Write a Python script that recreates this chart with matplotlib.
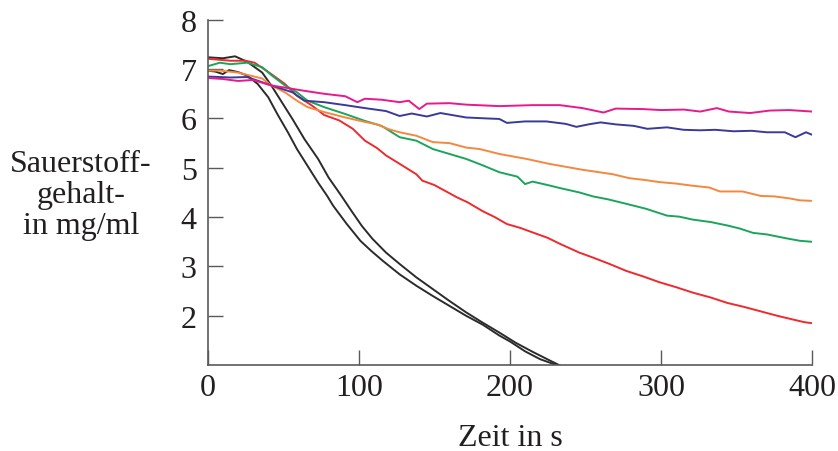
import numpy as np
import matplotlib
matplotlib.use("Agg")
import matplotlib.pyplot as plt

plt.rcParams['font.family'] = ['Liberation Serif', 'DejaVu Serif']

# Sauerstoffgehalt (mg/ml) ueber der Zeit (s)
t_pink = [0, 10, 20, 30, 42, 56, 64, 77, 91, 99, 104, 115, 127, 133, 140, 145, 160, 171,
          193, 215, 233, 248, 262, 270, 288, 300, 315, 326, 337, 345, 359, 372, 385, 400]
v_pink = [6.82, 6.80, 6.76, 6.78, 6.67, 6.60, 6.56, 6.50, 6.45, 6.33, 6.40, 6.38, 6.33, 6.36,
          6.19, 6.30, 6.31, 6.28, 6.25, 6.27, 6.27, 6.21, 6.12, 6.20, 6.19, 6.17, 6.18, 6.14,
          6.21, 6.14, 6.11, 6.16, 6.17, 6.14]

t_blue = [0, 15, 26, 42, 56, 64, 77, 91, 104, 118, 127, 135, 145, 154, 171, 185, 193, 198,
          210, 224, 237, 244, 252, 260, 270, 282, 291, 304, 315, 326, 336, 348, 360, 370,
          382, 389, 396, 400]
v_blue = [6.85, 6.83, 6.84, 6.67, 6.53, 6.36, 6.33, 6.27, 6.21, 6.15, 6.05, 6.10, 6.04,
          6.11, 6.02, 6.00, 5.99, 5.91, 5.94, 5.94, 5.89, 5.83, 5.88, 5.92, 5.88, 5.85, 5.79,
          5.82, 5.77, 5.76, 5.77, 5.74, 5.75, 5.72, 5.72, 5.62, 5.72, 5.67]

t_orange = [0, 8, 20, 28, 36, 42, 51, 59, 66, 77, 91, 104, 112, 120, 127, 138, 149, 160,
            171, 180, 193, 211, 226, 248, 268, 279, 290, 299, 310, 320, 332, 339, 354, 366,
            375, 385, 392, 400]
v_orange = [6.97, 6.97, 6.93, 6.87, 6.81, 6.67, 6.53, 6.36, 6.23, 6.13, 6.02, 5.93, 5.88,
            5.78, 5.72, 5.65, 5.52, 5.50, 5.41, 5.38, 5.28, 5.18, 5.08, 4.96, 4.87, 4.79,
            4.75, 4.71, 4.68, 4.64, 4.60, 4.52, 4.52, 4.43, 4.42, 4.38, 4.34, 4.33]

t_green = [0, 8, 15, 26, 36, 42, 51, 59, 66, 77, 91, 104, 115, 127, 138, 149, 160, 171,
           182, 193, 205, 210, 215, 225, 233, 246, 255, 265, 277, 290, 304, 312, 321, 333,
           344, 352, 361, 370, 383, 392, 400]
v_green = [7.06, 7.13, 7.10, 7.13, 7.04, 6.88, 6.67, 6.53, 6.36, 6.23, 6.09, 5.95, 5.85,
           5.62, 5.55, 5.38, 5.28, 5.18, 5.05, 4.91, 4.82, 4.67, 4.72, 4.65, 4.59, 4.50,
           4.42, 4.36, 4.27, 4.17, 4.03, 4.01, 3.95, 3.90, 3.83, 3.77, 3.68, 3.65, 3.57,
           3.52, 3.50]

t_red = [0, 15, 25, 31, 42, 51, 59, 69, 77, 87, 96, 104, 112, 118, 127, 138, 142, 150,
         165, 172, 182, 190, 198, 207, 215, 225, 233, 246, 255, 266, 277, 288, 299, 310,
         321, 333, 344, 355, 366, 377, 388, 395, 400]
v_red = [7.21, 7.17, 7.17, 7.13, 6.90, 6.70, 6.46, 6.26, 6.07, 5.96, 5.79, 5.55, 5.40,
         5.25, 5.08, 4.87, 4.74, 4.65, 4.40, 4.30, 4.12, 4.00, 3.86, 3.78, 3.69, 3.58,
         3.46, 3.28, 3.18, 3.05, 2.91, 2.80, 2.68, 2.58, 2.47, 2.37, 2.26, 2.18, 2.09,
         2.00, 1.92, 1.87, 1.85]

t_black1 = [0, 10, 18, 26, 36, 42, 49, 56, 64, 73, 80, 88, 95, 102, 109, 118, 127, 138,
            149, 160, 171, 182, 193, 204, 215, 226, 234]
v_black1 = [7.24, 7.22, 7.26, 7.15, 6.93, 6.67, 6.33, 5.99, 5.58, 5.18, 4.80, 4.45, 4.13,
            3.82, 3.56, 3.28, 3.05, 2.78, 2.54, 2.30, 2.07, 1.86, 1.66, 1.45, 1.27, 1.10,
            0.98]

t_black2 = [0, 5, 10, 14, 20, 26, 33, 40, 46, 53, 59, 66, 73, 79, 83, 92, 101, 108, 116,
            127, 138, 149, 160, 171, 182, 193, 200, 210, 220, 231]
v_black2 = [6.97, 6.95, 6.90, 6.98, 6.94, 6.87, 6.70, 6.43, 6.09, 5.72, 5.38, 5.04, 4.70,
            4.43, 4.23, 3.86, 3.52, 3.32, 3.11, 2.84, 2.61, 2.40, 2.20, 2.00, 1.82, 1.60,
            1.48, 1.28, 1.12, 1.00]

x_ticks = [0, 100, 200, 300, 400]
y_ticks = [2, 3, 4, 5, 6, 7, 8]

fig = plt.figure(figsize=(8.38, 4.52), dpi=100)
ax = fig.add_axes([0.248, 0.19, 0.721, 0.764])

axis_col = '#5a5a5a'
ax.plot(t_black1, v_black1, color='#2b2b2b', lw=1.4)
ax.plot(t_black2, v_black2, color='#2b2b2b', lw=1.4)
ax.plot(t_red, v_red, color='#ee2a2e', lw=1.4)
ax.plot(t_green, v_green, color='#1aa55a', lw=1.4)
ax.plot(t_orange, v_orange, color='#f5873f', lw=1.4)
ax.plot(t_blue, v_blue, color='#3a3a9a', lw=1.4)
ax.plot(t_pink, v_pink, color='#e8198b', lw=1.4)

ax.set_xlim(0, 400)
ax.set_ylim(1, 8)
ax.set_xticks(x_ticks)
ax.set_yticks(y_ticks)
for s in ['top', 'right']:
    ax.spines[s].set_visible(False)
for s in ['left', 'bottom']:
    ax.spines[s].set_color(axis_col)
    ax.spines[s].set_linewidth(1.2)
ax.tick_params(direction='in', length=11, width=1, colors=axis_col,
               labelcolor='#231f20', labelsize=23)
ax.tick_params(axis='x', pad=6)
ax.tick_params(axis='y', pad=8)

fig.text(0.0967, 0.568, 'Sauerstoff-\ngehalt-\nin mg/ml', ha='center', va='center',
         fontsize=23, color='#231f20', linespacing=1.1)
fig.text(0.609, 0.029, 'Zeit in s', ha='center', va='center', fontsize=23, color='#231f20')

fig.savefig('out.png', dpi=100)
